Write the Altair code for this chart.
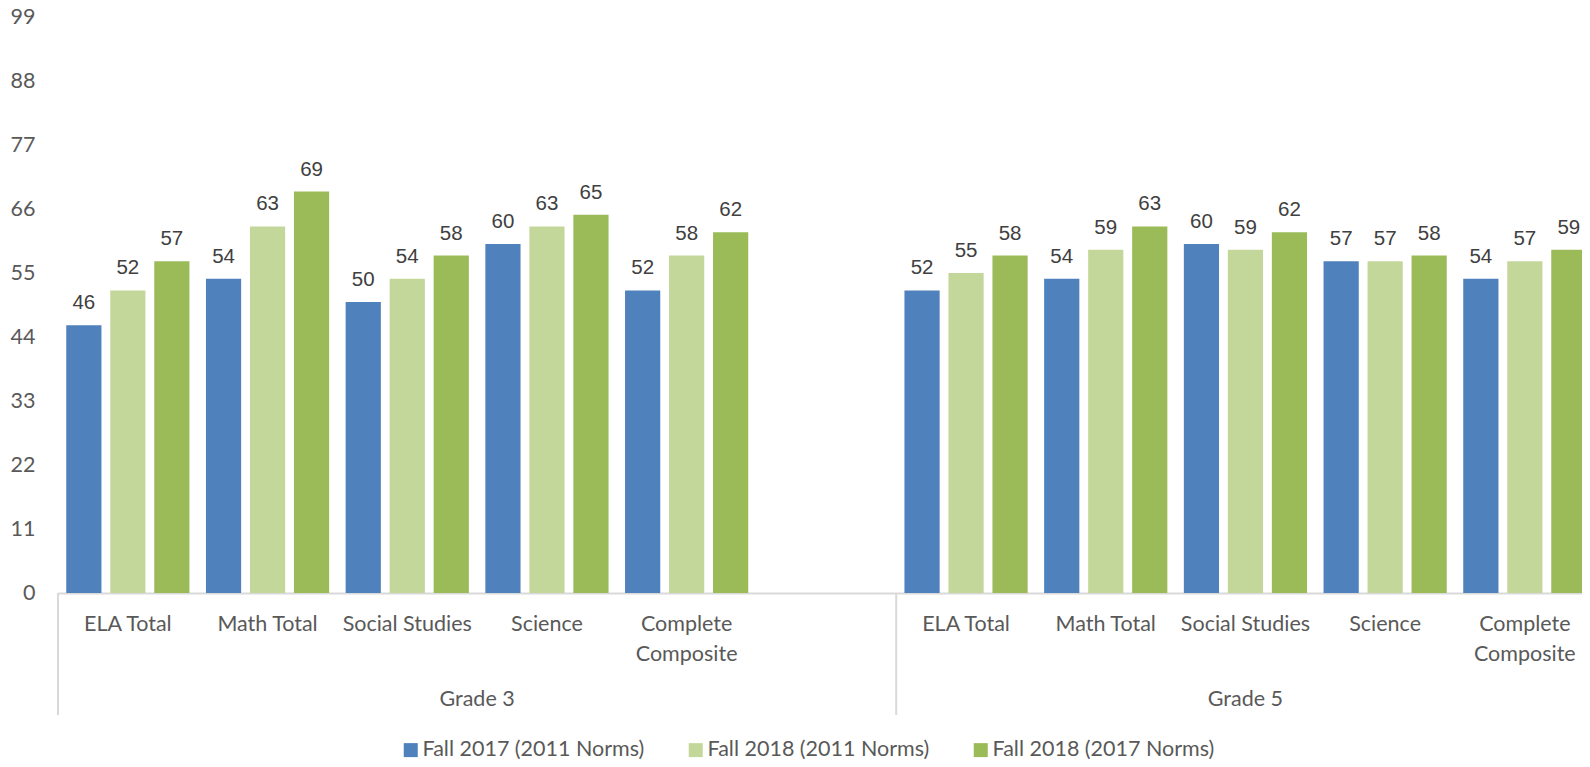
import altair as alt
import pandas as pd

# ---------------- data ----------------
grades = ["Grade 3", "Grade 5"]
subjects = ["ELA Total", "Math Total", "Social Studies", "Science", "Complete Composite"]
subject_labels = ["ELA Total", "Math Total", "Social Studies", "Science", "Complete\nComposite"]
series = ["Fall 2017 (2011 Norms)", "Fall 2018 (2011 Norms)", "Fall 2018 (2017 Norms)"]
colors = ["#4F81BD", "#C4D79B", "#9BBB59"]

g3_fall2017_2011 = [46, 54, 50, 60, 52]
g3_fall2018_2011 = [52, 63, 54, 63, 58]
g3_fall2018_2017 = [57, 69, 58, 65, 62]

g5_fall2017_2011 = [52, 54, 60, 57, 54]
g5_fall2018_2011 = [55, 59, 59, 57, 57]
g5_fall2018_2017 = [58, 63, 62, 58, 59]

y_ticks = [0, 11, 22, 33, 44, 55, 66, 77, 88, 99]

# ---------------- tables ----------------
g3_keys = [f"Grade 3|{s}" for s in subjects]
g5_keys = [f"Grade 5|{s}" for s in subjects]
gap_key = "Grade 3|"          # empty slot after Grade 3 (as in the original category axis)
domain = g3_keys + [gap_key] + g5_keys

rows = []
for keys, vals in [
    (g3_keys, [g3_fall2017_2011, g3_fall2018_2011, g3_fall2018_2017]),
    (g5_keys, [g5_fall2017_2011, g5_fall2018_2011, g5_fall2018_2017]),
]:
    for si, sname in enumerate(series):
        for k, v in zip(keys, vals[si]):
            rows.append({"cat": k, "series": sname, "value": v})
df = pd.DataFrame(rows)

cat_df = pd.DataFrame({"cat": g3_keys + g5_keys, "label": subject_labels + subject_labels})
sep_df = pd.DataFrame({"cat": [g3_keys[0], g5_keys[0]]})
g3_df = pd.DataFrame({"cat": [g3_keys[3]], "label": [grades[0]]})
g5_df = pd.DataFrame({"cat": [g5_keys[2]], "label": [grades[1]]})

# ---------------- layout ----------------
STEP = 139.7
H = 576
W = 1524
AXIS_FONT = "Lato"
AXIS_COLOR = "#595959"
AXIS_SIZE = 21.5
LINE_COLOR = "#D9D9D9"

x_scale = alt.Scale(domain=domain, range=[0, STEP * len(domain)], paddingInner=0, paddingOuter=0)
xoff_scale = alt.Scale(domain=series, paddingInner=0.2, paddingOuter=0.1875)
y_scale = alt.Scale(domain=[0, 99], nice=False, zero=True)


def xenc(**kw):
    return alt.X("cat:N", scale=x_scale, title=None,
                 axis=alt.Axis(labels=False, ticks=False, grid=False, domainColor=LINE_COLOR,
                               domainWidth=2, title=None), **kw)


bars = alt.Chart(df).mark_bar().encode(
    x=xenc(),
    xOffset=alt.XOffset("series:N", scale=xoff_scale),
    y=alt.Y("value:Q", scale=y_scale, title=None,
            axis=alt.Axis(values=y_ticks, grid=False, domain=False, ticks=False,
                          labelFont=AXIS_FONT, labelFontSize=AXIS_SIZE, labelColor=AXIS_COLOR,
                          labelPadding=23, title=None)),
    color=alt.Color("series:N", scale=alt.Scale(domain=series, range=colors),
                    legend=alt.Legend(title=None, orient="none", legendX=342, legendY=722,
                                      direction="horizontal", symbolType="square", symbolSize=196,
                                      symbolStrokeWidth=0, labelFont=AXIS_FONT,
                                      labelFontSize=AXIS_SIZE, labelColor=AXIS_COLOR,
                                      labelOffset=1, columnPadding=40, labelLimit=0)),
)

values = alt.Chart(df).mark_text(font="Liberation Sans", fontSize=20.5, color="#404040",
                                 baseline="alphabetic", dy=-16).encode(
    x=xenc(),
    xOffset=alt.XOffset("series:N", scale=xoff_scale),
    y=alt.Y("value:Q", scale=y_scale),
    text=alt.Text("value:Q"),
)

cat_text = alt.Chart(cat_df).mark_text(font=AXIS_FONT, fontSize=AXIS_SIZE, color=AXIS_COLOR,
                                       baseline="alphabetic", lineBreak="\n", lineHeight=30).encode(
    x=xenc(),
    y=alt.value(614),
    text="label:N",
)

seps = alt.Chart(sep_df).mark_rule(color=LINE_COLOR, strokeWidth=2).encode(
    x=xenc(bandPosition=0),
    y=alt.value(H),
    y2=alt.value(698),
)

g3_text = alt.Chart(g3_df).mark_text(font=AXIS_FONT, fontSize=AXIS_SIZE, color=AXIS_COLOR,
                                     baseline="alphabetic").encode(
    x=xenc(bandPosition=0), y=alt.value(689), text="label:N")

g5_text = alt.Chart(g5_df).mark_text(font=AXIS_FONT, fontSize=AXIS_SIZE, color=AXIS_COLOR,
                                     baseline="alphabetic").encode(
    x=xenc(bandPosition=0.5), y=alt.value(689), text="label:N")

chart = alt.layer(bars, values, cat_text, seps, g3_text, g5_text).properties(
    width=W,
    height=H,
    autosize=alt.AutoSizeParams(type="none"),
    padding={"left": 50, "top": 9, "right": 0, "bottom": 174},
    background="white",
).configure_view(stroke=None)

chart.save("out.html", embed_options={"renderer": "svg", "actions": False})
